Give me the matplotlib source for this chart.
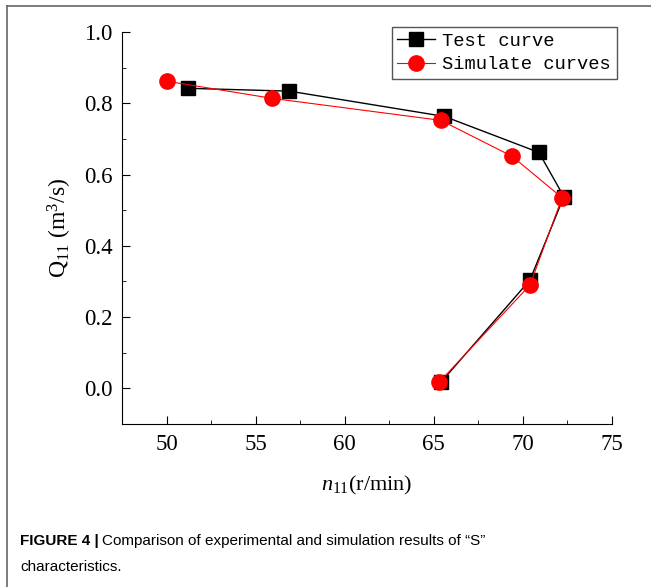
import matplotlib.pyplot as plt
from matplotlib.lines import Line2D
from matplotlib.ticker import MultipleLocator

# test curve (black squares)
test_n11 = [51.2, 56.9, 65.6, 70.9, 72.3, 70.4, 65.4]
test_q11 = [0.842, 0.834, 0.763, 0.662, 0.538, 0.304, 0.017]

# simulation (red circles)
sim_n11 = [50.0, 55.9, 65.4, 69.4, 72.2, 70.4, 65.3]
sim_q11 = [0.862, 0.814, 0.752, 0.651, 0.535, 0.29, 0.017]

xticks = [50, 55, 60, 65, 70, 75]
yticks = [0.0, 0.2, 0.4, 0.6, 0.8, 1.0]

plt.rcParams['font.family'] = 'Liberation Serif'
plt.rcParams['mathtext.fontset'] = 'custom'
plt.rcParams['mathtext.rm'] = 'Liberation Serif'
plt.rcParams['mathtext.it'] = 'Liberation Serif:italic'

fig = plt.figure(figsize=(6.51, 5.87), dpi=100)
ax = fig.add_axes([0.1874, 0.2777, 0.7526, 0.6678])

ax.plot(test_n11, test_q11, color='black', lw=1, marker='s', ms=10,
        label='Test curve')
ax.plot(sim_n11, sim_q11, color='red', lw=0.8, marker='o', ms=11,
        label='Simulate curves')

ax.set_xlim(47.5, 75)
ax.set_ylim(-0.1, 1.0)
ax.set_xticks(xticks)
ax.set_yticks(yticks)
ax.set_yticklabels([f'{v:.1f}' for v in yticks])
ax.xaxis.set_minor_locator(MultipleLocator(2.5))
ax.yaxis.set_minor_locator(MultipleLocator(0.1))
ax.tick_params(which='both', direction='in', labelsize=16.5, pad=7)
ax.tick_params(which='major', length=6)
ax.tick_params(which='minor', length=3)
for s in ['top', 'right']:
    ax.spines[s].set_visible(False)

ax.set_xlabel(r'$\mathit{n}_{11}$(r/min)', fontsize=16, labelpad=14)
ax.set_ylabel(r'Q$_{11}$ (m$^3$/s)', fontsize=17, labelpad=7)

leg = ax.legend(loc='upper right', bbox_to_anchor=(1.01, 1.013),
                prop={'family': 'Liberation Mono', 'size': 13.5},
                fancybox=False, edgecolor='#555555', framealpha=1,
                borderpad=0.3, handlelength=2.0, labelspacing=0.35,
                handletextpad=0.4, borderaxespad=0)
leg.get_frame().set_linewidth(1)

# outer frame of the figure panel
fig.add_artist(Line2D([7/651, 1], [1-6/587, 1-6/587], color='#666666', lw=1.2))
fig.add_artist(Line2D([7/651, 7/651], [0, 1-6/587], color='#666666', lw=1.2))

fig.text(20/651, 1-541/587, 'FIGURE 4 |', fontsize=11, fontweight='bold',
         family='Liberation Sans', va='center')
fig.text(102/651, 1-541/587,
         'Comparison of experimental and simulation results of \u201cS\u201d',
         fontsize=11, family='Liberation Sans', va='center')
fig.text(20/651, 1-567/587, 'characteristics.', fontsize=11,
         family='Liberation Sans', va='center')

fig.savefig('out.png', dpi=100)
